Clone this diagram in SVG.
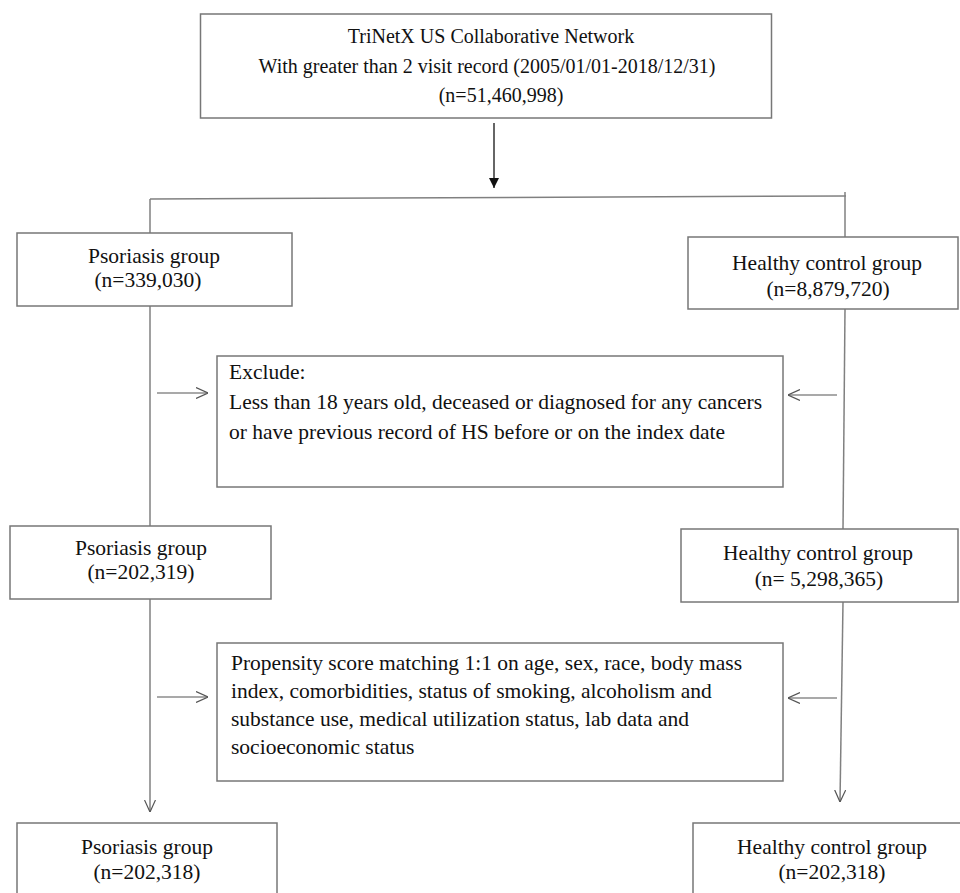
<svg xmlns="http://www.w3.org/2000/svg" width="960" height="893" viewBox="0 0 960 893">
<style>
.box{fill:#fff;stroke:#777;stroke-width:1.5}
.t{font-family:"Liberation Serif","Times New Roman",serif;fill:#111}
.s20{font-size:20px}
.s21{font-size:21.5px}
.c{text-anchor:middle}
.ln{stroke:#808080;stroke-width:1.5;fill:none}
.ar{stroke:#555;stroke-width:1.2;fill:none}
</style>
<defs>
<marker id="open" viewBox="0 0 12 12" refX="12" refY="6" markerWidth="12" markerHeight="12" markerUnits="userSpaceOnUse" orient="auto">
<path d="M0,0.5 L12,6 L0,11.5" fill="none" stroke="#555" stroke-width="1.2"/>
</marker>
<marker id="solid" viewBox="0 0 10 10" refX="10" refY="5" markerWidth="10" markerHeight="10" markerUnits="userSpaceOnUse" orient="auto">
<path d="M0,0 L10,5 L0,10 Z" fill="#111"/>
</marker>
</defs>
<rect width="960" height="893" fill="#fff"/>
<g id="connectors">
<line x1="494" y1="123" x2="494" y2="188" stroke="#333" stroke-width="1.5" marker-end="url(#solid)"/>
<line class="ln" x1="150" y1="199" x2="846" y2="196"/>
<line class="ln" x1="150" y1="199" x2="150" y2="233"/>
<line class="ln" x1="845" y1="192" x2="845" y2="237"/>
<line class="ln" x1="150" y1="306" x2="150" y2="526"/>
<line class="ln" x1="845" y1="309" x2="843" y2="529"/>
<line class="ln" x1="150" y1="599" x2="150" y2="812" marker-end="url(#open)"/>
<line class="ln" x1="843" y1="602" x2="840" y2="802" marker-end="url(#open)"/>
<line class="ar" x1="157" y1="393" x2="208" y2="393" marker-end="url(#open)"/>
<line class="ar" x1="837" y1="395" x2="788" y2="395" marker-end="url(#open)"/>
<line class="ar" x1="157" y1="697" x2="208" y2="697" marker-end="url(#open)"/>
<line class="ar" x1="837" y1="698" x2="788" y2="698" marker-end="url(#open)"/>
</g>
<g id="network">
<rect class="box" x="200.5" y="14" width="571" height="104"/>
<text class="t s20 c" x="491" y="43">TriNetX US Collaborative Network</text>
<text class="t s20 c" x="487" y="73">With greater than 2 visit record (2005/01/01-2018/12/31)</text>
<text class="t s20 c" x="501" y="102">(n=51,460,998)</text>
</g>
<g id="psoriasis1">
<rect class="box" x="17" y="233" width="275" height="73"/>
<text class="t s21 c" x="154" y="263">Psoriasis group</text>
<text class="t s21 c" x="148" y="287">(n=339,030)</text>
</g>
<g id="healthy1">
<rect class="box" x="688" y="237" width="270" height="72"/>
<text class="t s21 c" x="827" y="270">Healthy control group</text>
<text class="t s21 c" x="828" y="296">(n=8,879,720)</text>
</g>
<g id="exclude">
<rect class="box" x="217" y="356" width="566" height="131"/>
<text class="t s21" x="229" y="379">Exclude:</text>
<text class="t s21" x="229" y="409">Less than 18 years old, deceased or diagnosed for any cancers</text>
<text class="t s21" x="229" y="439">or have previous record of HS before or on the index date</text>
</g>
<g id="psoriasis2">
<rect class="box" x="10" y="526" width="261" height="73"/>
<text class="t s21 c" x="141" y="555">Psoriasis group</text>
<text class="t s21 c" x="141" y="579">(n=202,319)</text>
</g>
<g id="healthy2">
<rect class="box" x="681" y="529" width="277" height="73"/>
<text class="t s21 c" x="818" y="560">Healthy control group</text>
<text class="t s21 c" x="819" y="586">(n= 5,298,365)</text>
</g>
<g id="matching">
<rect class="box" x="217" y="643" width="566" height="138"/>
<text class="t s21" x="231" y="670">Propensity score matching 1:1 on age, sex, race, body mass</text>
<text class="t s21" x="231" y="698">index, comorbidities, status of smoking, alcoholism and</text>
<text class="t s21" x="231" y="726">substance use, medical utilization status, lab data and</text>
<text class="t s21" x="231" y="754">socioeconomic status</text>
</g>
<g id="psoriasis3">
<rect class="box" x="17" y="823" width="260" height="90"/>
<text class="t s21 c" x="147" y="854">Psoriasis group</text>
<text class="t s21 c" x="147" y="879">(n=202,318)</text>
</g>
<g id="healthy3">
<rect class="box" x="693" y="823" width="280" height="90"/>
<text class="t s21 c" x="832" y="854">Healthy control group</text>
<text class="t s21 c" x="832" y="879">(n=202,318)</text>
</g>
</svg>
